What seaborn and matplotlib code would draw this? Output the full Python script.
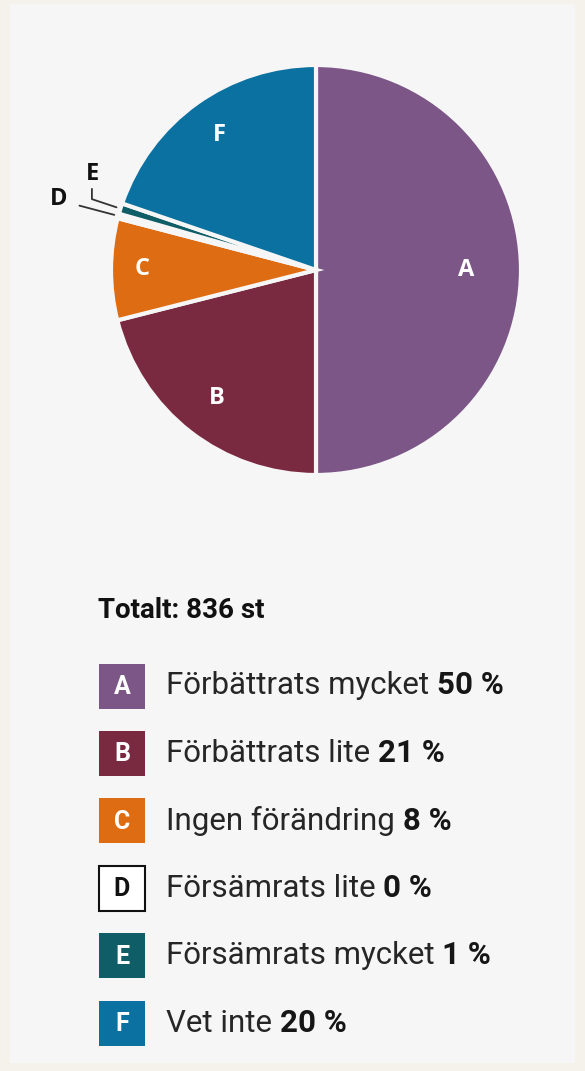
import numpy as np
import matplotlib
matplotlib.use("Agg")
import matplotlib.pyplot as plt
import seaborn as sns
from matplotlib.patches import Rectangle

# data
letters = ["A", "B", "C", "D", "E", "F"]
answers = ["Förbättrats mycket", "Förbättrats lite", "Ingen förändring",
           "Försämrats lite", "Försämrats mycket", "Vet inte"]
counts = [418, 176, 67, 3, 7, 165]          # sums to 836
total = sum(counts)
percent = [int(round(100 * c / total)) for c in counts]

colors = ["#7b5686", "#7a2a40", "#de6c12", "#ffffff", "#0f5d67", "#0a71a0"]
letter_colors = ["white", "white", "white", "#111111", "white", "white"]

PANEL = "#f7f6f7"
OUTER = "#f5f1eb"

sns.set_theme(style="white")
plt.rcParams["font.family"] = ["Roboto", "DejaVu Sans"]

W, H = 585, 1071
fig = plt.figure(figsize=(W / 100, H / 100), dpi=100, facecolor=OUTER)

# full-figure pixel axes for panel and legend
bg = fig.add_axes([0, 0, 1, 1])
bg.set_xlim(0, W)
bg.set_ylim(H, 0)
bg.axis("off")
bg.add_patch(Rectangle((10, 4), 565, 1059, facecolor=PANEL, edgecolor="none"))

# pie
cx, cy, r = 316, 270, 205
ax = fig.add_axes([(cx - r) / W, 1 - (cy + r) / H, 2 * r / W, 2 * r / H])
wedges, _ = ax.pie(counts, colors=colors, startangle=90, counterclock=False,
                   wedgeprops=dict(edgecolor=PANEL, linewidth=3))
ax.set_xlim(-1, 1)
ax.set_ylim(-1, 1)
ax.set_aspect("equal")

pie_font = ["Open Sans", "DejaVu Sans"]
label_dist = [0.73, 0.79, 0.85, None, None, 0.81]
for w, lab, d in zip(wedges, letters, label_dist):
    if d is None:
        continue
    ang = np.deg2rad((w.theta1 + w.theta2) / 2)
    ax.text(d * np.cos(ang), d * np.sin(ang), lab, color="white",
            fontsize=17, fontweight="bold", ha="center", va="center",
            family=pie_font)

# leader lines for the tiny D and E slices
for i in (3, 4):
    w = wedges[i]
    ang = np.deg2rad((w.theta1 + w.theta2) / 2)
    x0, y0 = 1.02 * np.cos(ang), 1.02 * np.sin(ang)
    if i == 4:
        xs = [x0, x0 - 0.12, x0 - 0.12]
        ys = [y0, y0 + 0.04, y0 + 0.09]
        tx, ty = x0 - 0.115, y0 + 0.165
    else:
        xs = [x0, x0 - 0.17]
        ys = [y0, y0 + 0.045]
        tx, ty = x0 - 0.27, y0 + 0.075
    ax.plot(xs, ys, color="#333333", lw=1.3, clip_on=False)
    ax.text(tx, ty, letters[i], color="#111111", fontsize=17, fontweight="bold",
            ha="center", va="center", clip_on=False, family=pie_font)

# legend
bg.text(98, 611, f"Totalt: {total} st", fontsize=20, fontweight="bold",
        color="#111111", va="center", ha="left")

for i, (lab, ans, p) in enumerate(zip(letters, answers, percent)):
    yc = 686 + i * 67.4
    edge = "#111111" if colors[i] == "#ffffff" else "none"
    bg.add_patch(Rectangle((99, yc - 22.5), 46, 45, facecolor=colors[i],
                           edgecolor=edge, linewidth=1.5))
    bg.text(122, yc + 1, lab, color=letter_colors[i], fontsize=18,
            fontweight="bold", ha="center", va="center")
    t = bg.text(166, yc, ans + " ", fontsize=22.5, color="#262626",
                ha="left", va="center")
    bg.annotate(f"{p} %", xy=(1, 0), xycoords=t, fontsize=22.5,
                fontweight="bold", color="#161616", ha="left", va="bottom")

fig.savefig("out.png", dpi=100, facecolor=OUTER)
